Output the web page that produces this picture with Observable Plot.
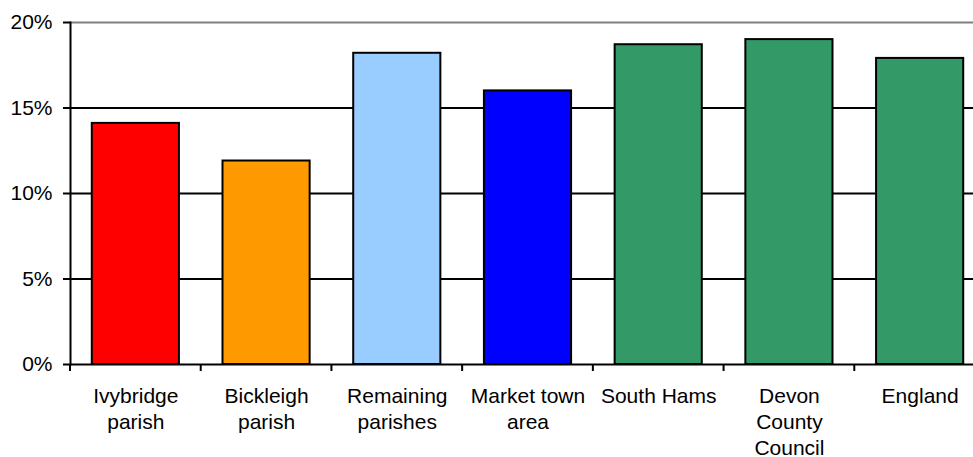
<!DOCTYPE html>
<html><head><meta charset="utf-8">
<script src="https://cdn.jsdelivr.net/npm/d3@7"></script>
<script src="https://cdn.jsdelivr.net/npm/@observablehq/plot@0.6"></script>
<style>
html,body{margin:0;padding:0;background:#fff;overflow:hidden}
#chart svg{display:block}
</style>
</head><body><div id="chart"></div>
<script>
const categories = ["Ivybridge parish","Bickleigh parish","Remaining parishes","Market town area","South Hams","Devon County Council","England"];
const labels = ["Ivybridge\nparish","Bickleigh\nparish","Remaining\nparishes","Market town\narea","South Hams","Devon\nCounty\nCouncil","England"];
const values = [14.1, 11.9, 18.2, 16.0, 18.7, 19.0, 17.9];
const colors = ["#FF0000","#FF9900","#99CCFF","#0000FF","#339966","#339966","#339966"];
const yTicks = [0, 5, 10, 15, 20];
const gridLines = [5, 10, 15];

const data = categories.map((c, i) => ({cat: c, value: values[i], color: colors[i], label: labels[i]}));
const labelOf = new Map(data.map(d => [d.cat, d.label]));

function boundaryTicks(index, scales, values, dimensions) {
  const x = scales.x, y = scales.y;
  const step = x(categories[1]) - x(categories[0]);
  let bw = typeof x.bandwidth === "function" ? x.bandwidth() : x.bandwidth;
  if (!(bw > 0)) bw = step * (1 - 1/3);
  const g = d3.create("svg:g");
  const y0 = y(0);
  const xs = categories.map(c => x(c) - (step - bw) / 2);
  xs.push(xs[xs.length - 1] + step);
  for (const xv of xs) {
    g.append("line").attr("x1", xv).attr("x2", xv).attr("y1", y0).attr("y2", y0 + 7)
      .attr("stroke", "#000").attr("stroke-width", 2);
  }
  return g.node();
}

const chart = Plot.plot({
  width: 973,
  height: 457,
  marginLeft: 70,
  marginRight: -12,
  marginTop: 22,
  marginBottom: 93,
  style: {fontFamily: "'Liberation Sans', Arial, sans-serif", fontSize: "21px", color: "#000", background: "#fff", overflow: "visible"},
  x: {domain: categories, paddingInner: 1/3, paddingOuter: 1/6, round: false, label: null},
  y: {domain: [0, 20], label: null},
  marks: [
    Plot.ruleY(gridLines, {stroke: "#000", strokeWidth: 2}),
    Plot.ruleY([20], {stroke: "#808080", strokeWidth: 2}),
    Plot.barY(data, {x: "cat", y: "value", fill: "color", stroke: "#000", strokeWidth: 2}),
    Plot.ruleY([0], {stroke: "#000", strokeWidth: 2}),
    Plot.axisY({ticks: yTicks, tickSize: 7, tickPadding: 11, tickFormat: d => d + "%", fontSize: 21, strokeWidth: 2, label: null}),
    Plot.frame({anchor: "left", stroke: "#000", strokeWidth: 2}),
    Plot.axisX({tickSize: 0, tickPadding: 20, tickFormat: d => labelOf.get(d), fontSize: 21, lineHeight: 1.24, label: null}),
    boundaryTicks
  ]
});
document.getElementById("chart").append(chart);
</script>
</body></html>
